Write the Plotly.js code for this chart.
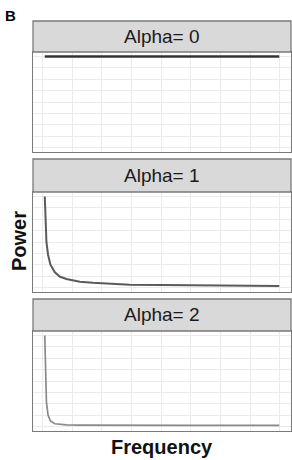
<!DOCTYPE html>
<html>
<head>
<meta charset="utf-8">
<script src="https://cdn.plot.ly/plotly-3.0.1.min.js"></script>
<style>
html,body{margin:0;padding:0;background:#fff;}
#chart{width:292px;height:460px;}
</style>
</head>
<body>
<div id="chart"></div>
<script>
// Data (frequency in arbitrary grid units)
var panelLabels = ["Alpha= 0", "Alpha= 1", "Alpha= 2"];
var frequency = [0.08, 0.11, 0.135, 0.19, 0.27, 0.42, 0.58, 0.81, 1.26, 1.70, 2.27, 2.94, 5.02, 7.98];
var powerAlpha0 = [1, 1, 1, 1, 1, 1, 1, 1, 1, 1, 1, 1, 1, 1];
var powerAlpha1 = [1.0, 0.76, 0.50, 0.36, 0.25, 0.167, 0.12, 0.094, 0.064, 0.053, 0.042, 0.031, 0.024, 0.016];
var powerAlpha2 = [1.0, 0.60, 0.27, 0.126, 0.06, 0.03, 0.022, 0.018, 0.015, 0.014, 0.013, 0.012, 0.012, 0.012];
var powers = [powerAlpha0, powerAlpha1, powerAlpha2];

var W = 292, H = 460;
// pixel geometry of panels
var plotTop = [52, 192, 331], plotBot = [152, 292, 431];
var stripTop = [21, 159, 299];
var xLeft = 33, xRight = 291;
var lineColors = ["#333333", "#5a5a5a", "#8a8a8a"];
var lineWidths = [2.4, 2, 1.7];

function py(p){ return (H - p) / H; }

var traces = [];
var layout = {
  width: W, height: H,
  margin: {l: 0, r: 0, t: 0, b: 0},
  paper_bgcolor: "#ffffff",
  plot_bgcolor: "#ffffff",
  showlegend: false,
  shapes: [],
  annotations: []
};
var border = "#7a7a7a";
for (var i = 0; i < 3; i++) {
  var sx = i === 0 ? "" : String(i + 1);
  traces.push({
    x: frequency, y: powers[i],
    xaxis: "x" + sx, yaxis: "y" + sx,
    type: "scatter", mode: "lines",
    line: {color: lineColors[i], width: lineWidths[i]},
    hoverinfo: "skip"
  });
  layout["xaxis" + sx] = {
    domain: [xLeft / W, xRight / W],
    range: [-0.317, 8.375],
    anchor: "y" + sx,
    showticklabels: false, ticks: "",
    dtick: 1, tick0: 0,
    showgrid: true, gridcolor: "#ebebeb", gridwidth: 1,
    zeroline: false,
    showline: true, mirror: true, linecolor: border, linewidth: 1.3
  };
  layout["yaxis" + sx] = {
    domain: [py(plotBot[i]), py(plotTop[i])],
    range: [-0.05, 1.05],
    anchor: "x" + sx,
    showticklabels: false, ticks: "",
    dtick: 0.125, tick0: 0,
    showgrid: true, gridcolor: "#ebebeb", gridwidth: 1,
    zeroline: false,
    showline: true, mirror: true, linecolor: border, linewidth: 1.3
  };
  layout.shapes.push({
    type: "rect", xref: "paper", yref: "paper",
    x0: xLeft / W, x1: xRight / W,
    y0: py(plotTop[i]), y1: py(stripTop[i]),
    fillcolor: "#d9d9d9", line: {color: border, width: 1.3}
  });
  layout.annotations.push({
    xref: "paper", yref: "paper",
    x: (xLeft + xRight) / 2 / W, y: py((stripTop[i] + plotTop[i]) / 2),
    text: panelLabels[i], showarrow: false,
    xanchor: "center", yanchor: "middle",
    font: {family: "Liberation Sans, Arial, sans-serif", size: 19, color: "#1a1a1a"}
  });
}
layout.annotations.push({
  xref: "paper", yref: "paper", x: 10.5 / W, y: py(15),
  text: "<b>B</b>", showarrow: false, xanchor: "center", yanchor: "middle",
  font: {family: "Liberation Sans, Arial, sans-serif", size: 15, color: "#000"}
});
layout.annotations.push({
  xref: "paper", yref: "paper", x: 18.5 / W, y: py(241.5),
  text: "<b>Power</b>", showarrow: false, textangle: -90,
  xanchor: "center", yanchor: "middle",
  font: {family: "Liberation Sans, Arial, sans-serif", size: 20, color: "#111"}
});
layout.annotations.push({
  xref: "paper", yref: "paper", x: 162.5 / W, y: py(447),
  text: "<b>Frequency</b>", showarrow: false,
  xanchor: "center", yanchor: "middle",
  font: {family: "Liberation Sans, Arial, sans-serif", size: 20, color: "#111"}
});

Plotly.newPlot("chart", traces, layout, {staticPlot: true, displayModeBar: false});
</script>
</body>
</html>
